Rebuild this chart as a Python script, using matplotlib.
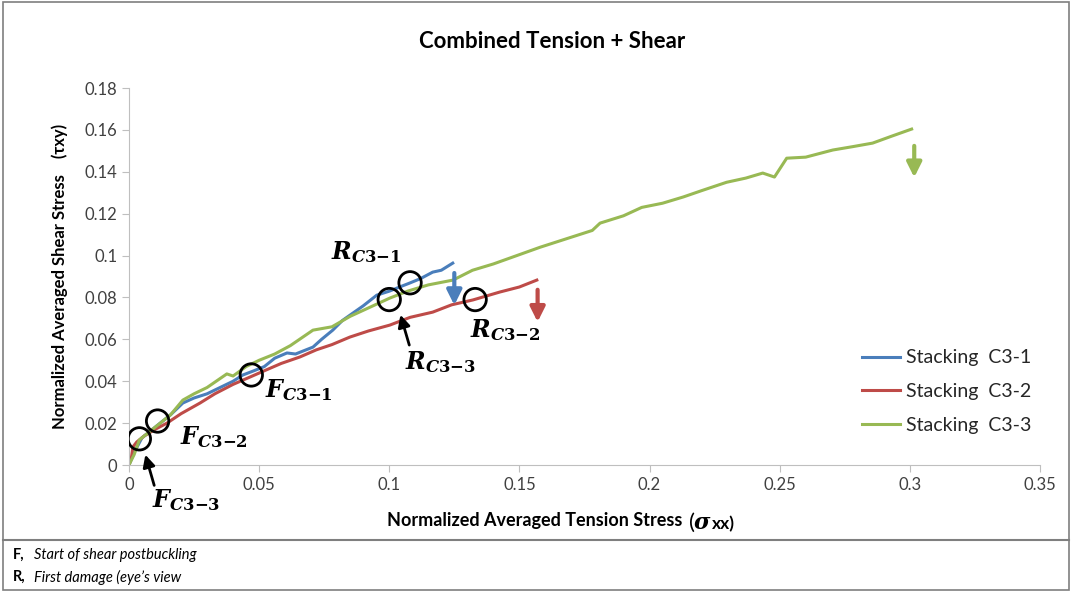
import matplotlib
matplotlib.use('Agg')
from matplotlib import pyplot as plt
from matplotlib.lines import Line2D

plt.rcParams['font.family'] = ['Lato', 'DejaVu Sans']
plt.rcParams['mathtext.fontset'] = 'custom'
plt.rcParams['mathtext.it'] = 'DejaVu Serif:italic:bold'
plt.rcParams['mathtext.rm'] = 'DejaVu Serif:bold'
plt.rcParams['mathtext.bf'] = 'DejaVu Serif:bold'

# data
c31_x = [0, 0.002, 0.005, 0.008, 0.012, 0.016, 0.0207, 0.025, 0.03, 0.035, 0.04, 0.0438,
         0.048, 0.052, 0.056, 0.0607, 0.064, 0.0707, 0.074, 0.0783, 0.082, 0.086, 0.09,
         0.0952, 0.1, 0.104, 0.1079, 0.112, 0.1167, 0.12, 0.1244]
c31_y = [0, 0.006, 0.013, 0.016, 0.02, 0.024, 0.0296, 0.032, 0.034, 0.037, 0.040, 0.043,
         0.045, 0.047, 0.051, 0.0535, 0.053, 0.0563, 0.060, 0.0644, 0.069, 0.0725, 0.076,
         0.0811, 0.083, 0.085, 0.0869, 0.089, 0.0921, 0.093, 0.0964]

c32_x = [0, 0.001, 0.0015, 0.003, 0.006, 0.01, 0.0146, 0.02, 0.0273, 0.033, 0.04, 0.0465,
         0.052, 0.0585, 0.0657, 0.072, 0.078, 0.0849, 0.092, 0.1002, 0.108, 0.1167,
         0.124, 0.1321, 0.1425, 0.15, 0.1567]
c32_y = [0, 0.004, 0.0086, 0.011, 0.014, 0.017, 0.02, 0.0245, 0.0296, 0.034, 0.0385, 0.042,
         0.045, 0.0485, 0.0516, 0.055, 0.0575, 0.0611, 0.064, 0.0668, 0.0705, 0.073,
         0.0765, 0.0788, 0.0826, 0.085, 0.0883]

c33_x = [0, 0.002, 0.004, 0.008, 0.012, 0.016, 0.0207, 0.025, 0.03, 0.0376, 0.04, 0.045,
         0.05, 0.056, 0.062, 0.0707, 0.078, 0.085, 0.092, 0.1002, 0.107, 0.115, 0.1245,
         0.132, 0.14, 0.149, 0.158, 0.168, 0.178, 0.181, 0.19, 0.197, 0.205, 0.213, 0.22,
         0.2296, 0.237, 0.2435, 0.248, 0.2527, 0.26, 0.2704, 0.278, 0.2857, 0.293, 0.3007]
c33_y = [0, 0.005, 0.012, 0.016, 0.02, 0.024, 0.031, 0.034, 0.037, 0.0435, 0.0425, 0.047,
         0.050, 0.053, 0.057, 0.0644, 0.066, 0.071, 0.075, 0.0797, 0.083, 0.086, 0.0883,
         0.093, 0.096, 0.100, 0.104, 0.108, 0.112, 0.1155, 0.119, 0.123, 0.125, 0.128, 0.131,
         0.135, 0.137, 0.1394, 0.1375, 0.1465, 0.147, 0.1504, 0.152, 0.1537, 0.157, 0.1604]

# marked points: (x, y)
circle_x = [0.004, 0.011, 0.047, 0.1, 0.108, 0.133]
circle_y = [0.0125, 0.021, 0.043, 0.079, 0.087, 0.079]

label_text = [r'$F_{C3{-}3}$', r'$F_{C3{-}2}$', r'$F_{C3{-}1}$',
              r'$R_{C3{-}3}$', r'$R_{C3{-}1}$', r'$R_{C3{-}2}$']
label_x = [0.0088, 0.0196, 0.0522, 0.106, 0.0775, 0.131]
label_y = [-0.0167, 0.0134, 0.0358, 0.049, 0.1017, 0.0644]

blue = '#4a7ebb'
red = '#be4b48'
green = '#98b954'

fig = plt.figure(figsize=(10.72, 5.92), dpi=100)
ax = fig.add_axes([0.1203, 0.2145, 0.8498, 0.6368])

ax.plot(c31_x, c31_y, color=blue, lw=2.2, label='Stacking  C3-1')
ax.plot(c32_x, c32_y, color=red, lw=2.2, label='Stacking  C3-2')
ax.plot(c33_x, c33_y, color=green, lw=2.2, label='Stacking  C3-3')

ax.scatter(circle_x, circle_y, s=260, facecolors='none', edgecolors='black',
           linewidths=2, zorder=5)
for t, x, y in zip(label_text, label_x, label_y):
    ax.text(x, y, t, fontsize=17, va='center', ha='left')

# failure arrows
ax.annotate('', xy=(0.125, 0.075), xytext=(0.125, 0.093),
            arrowprops=dict(arrowstyle='-|>', color=blue, lw=3, mutation_scale=22))
ax.annotate('', xy=(0.157, 0.067), xytext=(0.157, 0.085),
            arrowprops=dict(arrowstyle='-|>', color=red, lw=3, mutation_scale=22))
ax.annotate('', xy=(0.3017, 0.136), xytext=(0.3017, 0.1537),
            arrowprops=dict(arrowstyle='-|>', color=green, lw=3, mutation_scale=22))
# pointer arrows
ax.annotate('', xy=(0.006, 0.0062), xytext=(0.010, -0.011),
            arrowprops=dict(arrowstyle='-|>', color='black', lw=2, mutation_scale=18),
            annotation_clip=False)
ax.annotate('', xy=(0.104, 0.073), xytext=(0.108, 0.056),
            arrowprops=dict(arrowstyle='-|>', color='black', lw=2, mutation_scale=18))

ax.set_xlim(0, 0.35)
ax.set_ylim(0, 0.18)
ax.set_xticks([0, 0.05, 0.1, 0.15, 0.2, 0.25, 0.3, 0.35])
ax.set_xticklabels(['0', '0.05', '0.1', '0.15', '0.2', '0.25', '0.3', '0.35'])
ax.set_yticks([0, 0.02, 0.04, 0.06, 0.08, 0.1, 0.12, 0.14, 0.16, 0.18])
ax.set_yticklabels(['0', '0.02', '0.04', '0.06', '0.08', '0.1', '0.12', '0.14',
                    '0.16', '0.18'])
for s in ['top', 'right']:
    ax.spines[s].set_visible(False)
for s in ['left', 'bottom']:
    ax.spines[s].set_color('#bfbfbf')
ax.tick_params(colors='#bfbfbf', labelcolor='#404040', labelsize=12, length=5,
               direction='out')

fig.text(0.499, 0.121, 'Normalized Averaged Tension Stress', fontsize=13,
         fontweight='bold', ha='center', va='center')
fig.text(0.642, 0.118, r'($\sigma$', fontsize=16, ha='left', va='center')
fig.text(0.664, 0.114, 'xx)', fontsize=12.5, ha='left', va='center', fontweight='bold')
ax.set_ylabel('Normalized Averaged Shear Stress    (\u03c4xy)', fontsize=12,
              fontweight='bold', labelpad=12)
fig.text(0.515, 0.93, 'Combined Tension + Shear', fontsize=16, fontweight='bold',
         ha='center', va='center')

leg = ax.legend(loc='center left', bbox_to_anchor=(0.785, 0.195), frameon=False,
                fontsize=14, handlelength=2.0, handletextpad=0.3, labelspacing=0.85)
for txt in leg.get_texts():
    txt.set_color('#262626')

# frame and footnote
fig.add_artist(plt.Rectangle((0.003, 0.003), 0.994, 0.993, transform=fig.transFigure,
                             fill=False, edgecolor='#7f7f7f', lw=1.2))
fig.add_artist(Line2D([0.003, 0.997], [0.088, 0.088], transform=fig.transFigure,
                      color='#7f7f7f', lw=1.5))
fig.text(0.012, 0.063, 'F,', fontsize=10.5, fontweight='bold', va='center')
fig.text(0.032, 0.063, 'Start of shear postbuckling', fontsize=10.5, style='italic',
         va='center')
fig.text(0.012, 0.025, 'R,', fontsize=10.5, fontweight='bold', va='center')
fig.text(0.032, 0.025, 'First damage (eye\u2019s view', fontsize=10.5, style='italic',
         va='center')

fig.savefig('out.png', dpi=100)
